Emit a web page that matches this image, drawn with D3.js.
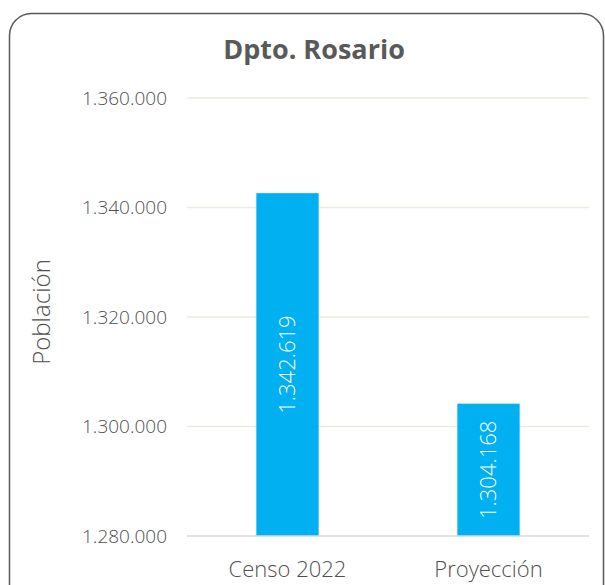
<!DOCTYPE html>
<html>
<head>
<meta charset="utf-8">
<script src="https://cdn.jsdelivr.net/npm/d3@7"></script>
<style>
  body { margin: 0; background: #fff; }
  text { font-family: "Open Sans", sans-serif; fill: #595959; }
  .light { font-weight: 300; fill: #4f4f4f; }
</style>
</head>
<body>
<div id="chart"></div>
<script>
const categories = ["Censo 2022", "Proyección"];
const values = [1342619, 1304168];
const yTicks = [1280000, 1300000, 1320000, 1340000, 1360000];
const title = "Dpto. Rosario";
const yTitle = "Población";

const width = 605, height = 585;
const margin = { top: 98, right: 16, bottom: 49, left: 187 };
const innerWidth = width - margin.left - margin.right;
const innerHeight = height - margin.top - margin.bottom;

const fmt = d3.formatLocale({ decimal: ",", thousands: ".", grouping: [3], currency: ["$", ""] }).format(",d");

const svg = d3.select("#chart").append("svg")
    .attr("width", width)
    .attr("height", height);

// marco redondeado
svg.append("rect")
    .attr("x", 9.5).attr("y", 13.5)
    .attr("width", 594).attr("height", 620)
    .attr("rx", 22)
    .attr("fill", "#fff")
    .attr("stroke", "#595959")
    .attr("stroke-width", 1.5);

const chart = svg.append("g")
    .attr("transform", `translate(${margin.left},${margin.top})`);

const x = d3.scaleBand()
    .domain(categories)
    .range([0, innerWidth])
    .paddingInner(0.69)
    .paddingOuter(0.345);

const y = d3.scaleLinear()
    .domain([1280000, 1360000])
    .range([innerHeight, 0]);

// grid
chart.selectAll(".grid")
    .data(yTicks.slice(1))
    .enter().append("line")
    .attr("x1", 0).attr("x2", innerWidth)
    .attr("y1", d => y(d)).attr("y2", d => y(d))
    .attr("stroke", "#ece9df")
    .attr("stroke-width", 1.3);

// tick labels
chart.selectAll(".ytick")
    .data(yTicks)
    .enter().append("text")
    .attr("class", "light")
    .attr("x", -20)
    .attr("y", d => y(d))
    .attr("dy", "0.35em")
    .attr("text-anchor", "end")
    .style("font-size", "19px")
    .text(d => fmt(d));

// bars
chart.selectAll(".bar")
    .data(values)
    .enter().append("rect")
    .attr("x", (d, i) => x(categories[i]))
    .attr("y", d => y(d))
    .attr("width", x.bandwidth())
    .attr("height", d => innerHeight - y(d))
    .attr("fill", "#00b0f0");

// base axis
chart.append("line")
    .attr("x1", 0).attr("x2", innerWidth)
    .attr("y1", innerHeight).attr("y2", innerHeight)
    .attr("stroke", "#d9d9d9")
    .attr("stroke-width", 1.5);

// bar labels
chart.selectAll(".bar-label")
    .data(values)
    .enter().append("text")
    .attr("transform", (d, i) => {
        const cx = x(categories[i]) + x.bandwidth() / 2;
        const cy = (y(d) + innerHeight) / 2;
        return `translate(${cx},${cy}) rotate(-90)`;
    })
    .attr("text-anchor", "middle")
    .attr("dy", "0.35em")
    .style("font-size", "22px")
    .style("font-weight", 300)
    .style("fill", "#fff")
    .text(d => fmt(d));

// category labels
chart.selectAll(".xlabel")
    .data(categories)
    .enter().append("text")
    .attr("class", "light")
    .attr("x", d => x(d) + x.bandwidth() / 2)
    .attr("y", innerHeight + 41)
    .attr("text-anchor", "middle")
    .style("font-size", "22px")
    .text(d => d);

// title
svg.append("text")
    .attr("x", 314).attr("y", 59)
    .attr("text-anchor", "middle")
    .style("font-size", "27px")
    .style("font-weight", "bold")
    .text(title);

// y title
svg.append("text")
    .attr("class", "light")
    .attr("transform", "translate(50,312) rotate(-90)")
    .attr("text-anchor", "middle")
    .style("font-size", "24px")
    .text(yTitle);
</script>
</body>
</html>
